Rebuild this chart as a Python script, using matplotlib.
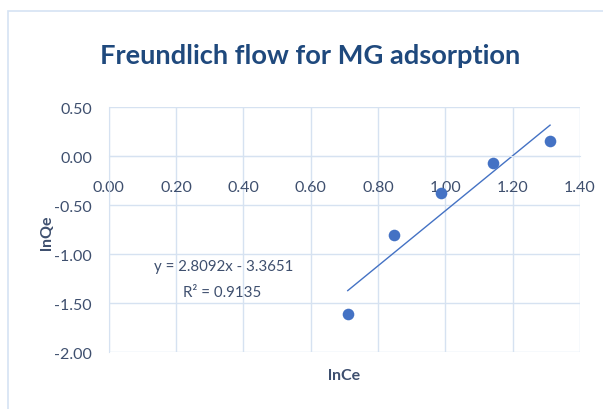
import matplotlib

matplotlib.use("Agg")
import matplotlib.pyplot as plt
from matplotlib.patches import Rectangle
import numpy as np

ln_ce = [0.71, 0.848, 0.988, 1.141, 1.311]
ln_qe = [-1.61, -0.80, -0.374, -0.068, 0.159]
slope = 2.8092
intercept = -3.3651
r_squared = 0.9135
x_ticks = [0.0, 0.2, 0.4, 0.6, 0.8, 1.0, 1.2, 1.4]
y_ticks = [0.5, 0.0, -0.5, -1.0, -1.5, -2.0]

TITLE_COLOR = "#1F497D"
TEXT_COLOR = "#3E4F6E"
GRID_COLOR = "#D6E2F1"
POINT_COLOR = "#4472C4"

plt.rcParams["font.family"] = ["Lato", "DejaVu Sans"]

fig = plt.figure(figsize=(6.03, 4.10), dpi=100)
fig.patches.append(Rectangle((8 / 603, -0.05), 1.2, 1 - 12 / 410 + 0.05,
                             transform=fig.transFigure, fill=False,
                             edgecolor="#D5E3F3", linewidth=1.2))

ax = fig.add_axes([0.1803, 0.1383, 0.7816, 0.5976])
ax.scatter(ln_ce, ln_qe, s=70, color=POINT_COLOR, zorder=3, linewidths=0)

# linear trendline from the displayed fit
fit_x = np.array([min(ln_ce), max(ln_ce)])
ax.plot(fit_x, slope * fit_x + intercept, color=POINT_COLOR, linewidth=1.0, zorder=2)

ax.set_xlim(0, 1.4)
ax.set_ylim(-2.0, 0.5)
ax.set_xticks(x_ticks)
ax.set_yticks(y_ticks)
ax.set_xticklabels([f"{v:.2f}" for v in x_ticks])
ax.set_yticklabels([f"{v:.2f}" for v in y_ticks])
ax.grid(True, color=GRID_COLOR, linewidth=1.0)
ax.set_axisbelow(True)

for side in ["top", "right"]:
    ax.spines[side].set_visible(False)
ax.spines["left"].set_color(GRID_COLOR)
ax.spines["bottom"].set_position(("data", 0))
ax.spines["bottom"].set_color(GRID_COLOR)
ax.tick_params(axis="x", length=0, pad=17, labelsize=11.5, labelcolor=TEXT_COLOR)
ax.tick_params(axis="y", length=0, pad=12, labelsize=11.5, labelcolor=TEXT_COLOR)

fig.text(0.5145, 0.863, "Freundlich flow for MG adsorption", ha="center", va="center",
         fontsize=19.6, fontweight="bold", color=TITLE_COLOR)
fig.text(0.078, 0.433, "lnQe", ha="center", va="center", rotation=90,
         fontsize=11.5, fontweight="bold", color=TEXT_COLOR)
fig.text(0.570, 0.083, "lnCe", ha="center", va="center",
         fontsize=11.5, fontweight="bold", color=TEXT_COLOR)

fig.text(0.371, 0.349, f"y = {slope:.4f}x - {abs(intercept):.4f}", ha="center", va="center",
         fontsize=10.8, color=TEXT_COLOR)
fig.text(0.368, 0.285, f"R² = {r_squared:.4f}", ha="center", va="center",
         fontsize=10.8, color=TEXT_COLOR)

fig.savefig("out.png", dpi=100)
